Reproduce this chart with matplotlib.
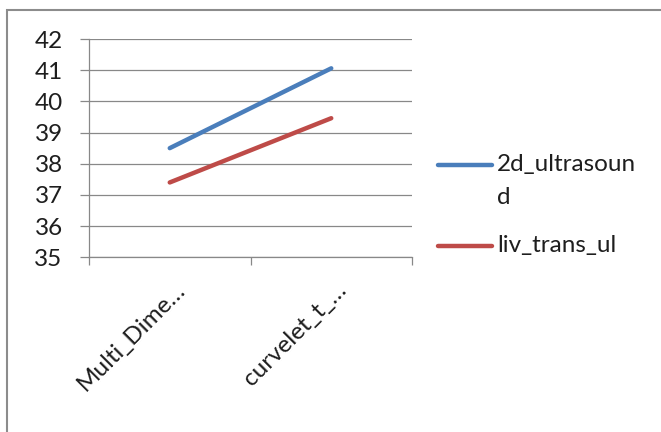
import matplotlib
matplotlib.use("Agg")
import matplotlib.pyplot as plt
from matplotlib.lines import Line2D
from matplotlib.patches import Rectangle
from matplotlib.transforms import ScaledTranslation

# ─── dados ────────────────────────────────────────────────────────────────
categorias = ["Multi_Dime…", "curvelet_t_…"]
ultrasound_2d = [38.5, 41.06]
liv_trans_ul = [37.4, 39.46]
series_nomes = ["2d_ultrasoun\nd", "liv_trans_ul"]
series_cores = ["#4A7EBB", "#BE4B48"]
y_ticks = [35, 36, 37, 38, 39, 40, 41, 42]

W, H, DPI = 661, 432, 100
GRID = "#888888"
TXT = "#1e1e1e"
FS = 17.5

plt.rcParams["font.family"] = ["Lato", "DejaVu Sans"]

fig = plt.figure(figsize=(W / DPI, H / DPI), dpi=DPI)
fig.patch.set_facecolor("white")

# moldura do gráfico (sai pela direita e por baixo)
fig.add_artist(Rectangle((7 / W, -0.05), 1.2, 1 - 9.5 / H + 0.05,
                         transform=fig.transFigure, fill=False,
                         edgecolor="#8c8c8c", lw=1.5))

ax = fig.add_axes([89 / W, 1 - 257.3 / H, (412 - 89) / W, (257.3 - 39) / H])

x = list(range(len(categorias)))
for vals, cor in zip([ultrasound_2d, liv_trans_ul], series_cores):
    ax.plot(x, vals, color=cor, lw=3.2, solid_capstyle="round", zorder=3)

ax.set_xlim(-0.5, len(categorias) - 0.5)
ax.set_ylim(y_ticks[0], y_ticks[-1])
ax.set_yticks(y_ticks)
ax.grid(axis="y", color=GRID, lw=0.9)
ax.set_axisbelow(True)

for s in ["top", "right"]:
    ax.spines[s].set_visible(False)
for s in ["left", "bottom"]:
    ax.spines[s].set_color(GRID)
    ax.spines[s].set_linewidth(0.9)

ax.tick_params(axis="y", length=6.5, width=0.9, color=GRID, pad=12.5,
               labelsize=FS, labelcolor=TXT)

# rótulos de categoria no centro, marcas nos limites
ax.set_xticks(x)
ax.set_xticklabels(categorias, rotation=45, ha="right", va="center",
                   rotation_mode="anchor", fontsize=FS, color=TXT)
ax.tick_params(axis="x", which="major", length=0, pad=21)
ax.set_xticks([i - 0.5 for i in range(len(categorias) + 1)], minor=True)
ax.tick_params(axis="x", which="minor", length=5.8, width=0.9, color=GRID)
desloc = ScaledTranslation(12 / DPI, 0, fig.dpi_scale_trans)
for lab in ax.get_xticklabels():
    lab.set_transform(lab.get_transform() + desloc)

# legenda: linha na altura da primeira linha do rótulo
leg_y = [165, 246]
for nome, cor, yy in zip(series_nomes, series_cores, leg_y):
    fy = 1 - yy / H
    fig.add_artist(Line2D([438 / W, 492 / W], [fy, fy], color=cor, lw=3.2,
                          solid_capstyle="round", transform=fig.transFigure))
    fig.text(497 / W, 1 - (yy - 11) / H, nome, fontsize=FS, color=TXT,
             ha="left", va="top", linespacing=1.7)

fig.savefig("out.png", dpi=DPI, facecolor="white")
